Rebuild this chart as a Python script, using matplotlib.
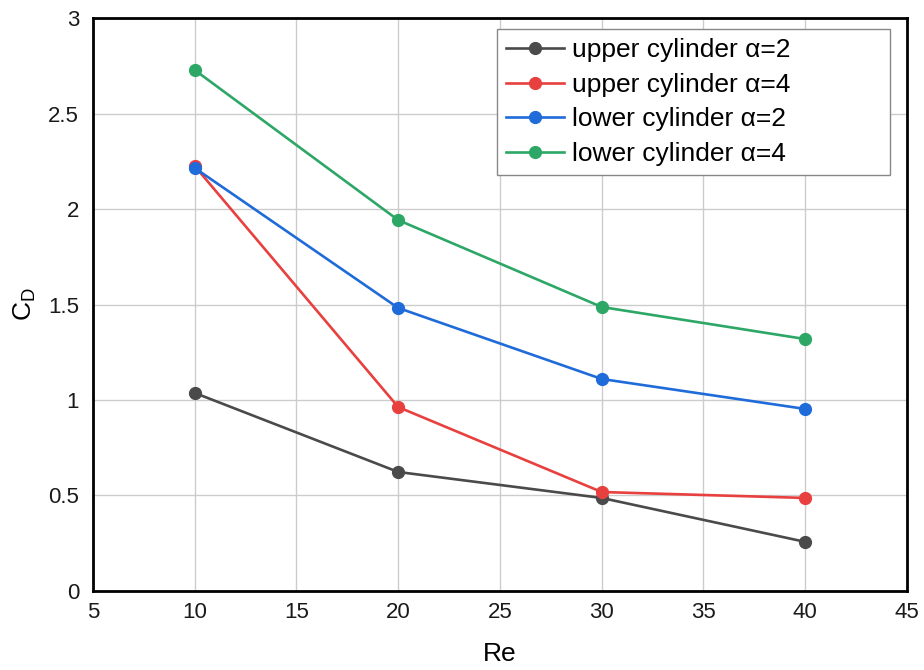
import matplotlib
matplotlib.use('agg')
import matplotlib.pyplot as plt

re_values = [10, 20, 30, 40]
upper_a2 = [1.037, 0.623, 0.487, 0.257]
upper_a4 = [2.225, 0.963, 0.518, 0.487]
lower_a2 = [2.215, 1.482, 1.110, 0.953]
lower_a4 = [2.728, 1.942, 1.487, 1.319]

series = [
    ('upper cylinder α=2', upper_a2, '#4a4a4a'),
    ('upper cylinder α=4', upper_a4, '#e8403f'),
    ('lower cylinder α=2', lower_a2, '#1f6bd9'),
    ('lower cylinder α=4', lower_a4, '#2da766'),
]

plt.rcParams['font.family'] = ['Liberation Sans', 'DejaVu Sans']
plt.rcParams['mathtext.fontset'] = 'custom'
plt.rcParams['mathtext.rm'] = 'Liberation Sans'
plt.rcParams['mathtext.it'] = 'Liberation Sans'

fig = plt.figure(figsize=(9.24, 6.70), dpi=100)
ax = fig.add_axes([0.1006, 0.118, 0.881, 0.855])

for label, ys, color in series:
    ax.plot(re_values, ys, color=color, marker='o', markersize=8.5, linewidth=1.9, label=label, zorder=3)

ax.set_xlim(5, 45)
ax.set_ylim(0, 3)
ax.set_xticks(range(5, 46, 5))
ax.set_yticks([0, 0.5, 1, 1.5, 2, 2.5, 3])
ax.set_yticklabels(['0', '0.5', '1', '1.5', '2', '2.5', '3'])
ax.tick_params(length=0, labelsize=16, labelcolor='#1a1a1a')
ax.tick_params(axis='y', pad=10)
ax.tick_params(axis='x', pad=8)
ax.grid(True, color='#cccccc', linewidth=1)
ax.set_axisbelow(True)
for edge in ('top', 'right', 'bottom', 'left'):
    ax.spines[edge].set_linewidth(2)
    ax.spines[edge].set_color('black')

ax.set_xlabel('Re', fontsize=19, labelpad=14)
ax.set_ylabel(r'$\mathrm{C_D}$', fontsize=19, labelpad=7)

# legend box is wider than its text in the reference: stretch it to a fixed box
leg = ax.legend(loc='upper left', bbox_to_anchor=(0.4963, 0.735, 0.483, 0.246), mode='expand',
                fontsize=19, frameon=True, fancybox=False, edgecolor='#888888', framealpha=1,
                handlelength=2.2, handletextpad=0.3, borderpad=0.35, labelspacing=0.4,
                borderaxespad=0)
leg.get_frame().set_linewidth(1)

fig.savefig('out.png', dpi=100)
